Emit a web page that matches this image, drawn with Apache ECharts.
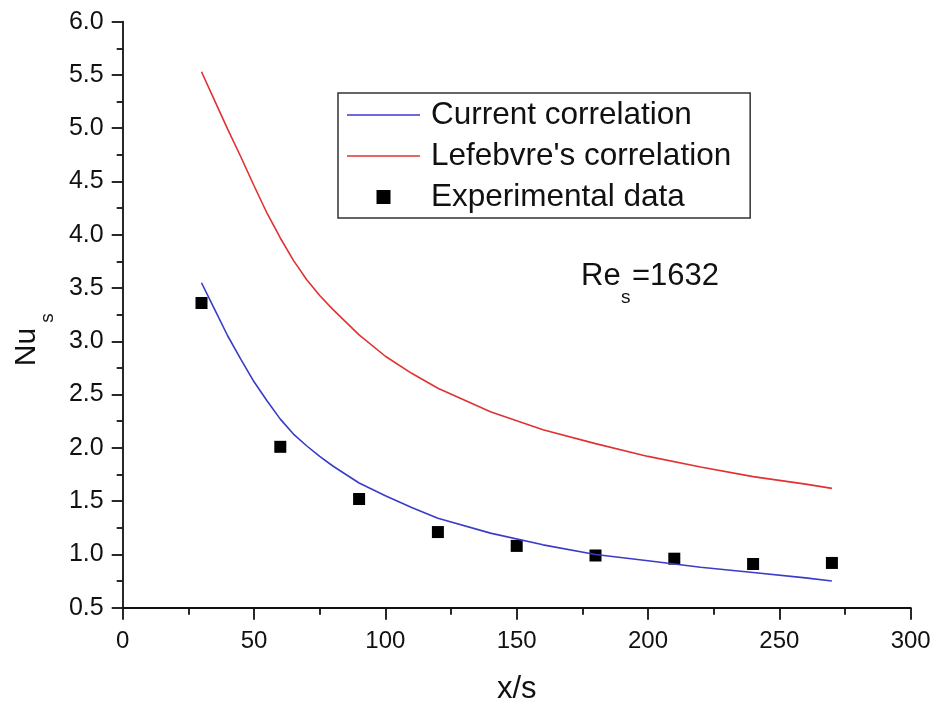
<!DOCTYPE html>
<html>
<head>
<meta charset="utf-8">
<script src="https://cdn.jsdelivr.net/npm/echarts@6/dist/echarts.min.js"></script>
<style>
html,body{margin:0;padding:0;background:#fff;}
#chart{width:938px;height:706px;}
</style>
</head>
<body>
<div id="chart"></div>
<script>
// x/s sample positions for the correlation curves
var curveX = [30, 35, 40, 45, 50, 55, 60, 65, 70, 75, 80, 90, 100, 110, 120, 140, 160, 180, 200, 220, 240, 260, 270];
// Current correlation (blue)
var currentNu = [3.55, 3.30, 3.05, 2.83, 2.62, 2.44, 2.27, 2.13, 2.02, 1.92, 1.83, 1.67, 1.55, 1.44, 1.34, 1.20, 1.09, 1.00, 0.94, 0.88, 0.83, 0.78, 0.75];
// Lefebvre's correlation (red)
var lefebvreNu = [5.53, 5.26, 4.99, 4.73, 4.46, 4.20, 3.97, 3.76, 3.58, 3.43, 3.30, 3.06, 2.86, 2.70, 2.56, 2.34, 2.17, 2.04, 1.92, 1.82, 1.73, 1.66, 1.62];
// Experimental data
var expX = [30, 60, 90, 120, 150, 180, 210, 240, 270];
var expNu = [3.36, 2.01, 1.52, 1.21, 1.08, 0.99, 0.96, 0.91, 0.92];

var names = ['Current correlation', "Lefebvre's correlation", 'Experimental data'];

function pairs(xs, ys) { return xs.map(function (x, i) { return [x, ys[i]]; }); }

var FONT = '"Liberation Sans", Arial, sans-serif';
var chart = echarts.init(document.getElementById('chart'), null, {renderer: 'canvas'});

chart.setOption({
  animation: false,
  backgroundColor: '#fff',
  grid: {left: 122.7, right: 27.3, top: 21.7, bottom: 98.3, containLabel: false, outerBoundsMode: 'none'},
  legend: {
    orient: 'vertical',
    left: 338, top: 93,
    padding: [6, 19, 5, 9],
    itemWidth: 73, itemHeight: 14, itemGap: 9, itemTextGap: 5,
    borderColor: '#333', borderWidth: 1.5, borderRadius: 0,
    textStyle: {fontFamily: FONT, fontSize: 31.5, lineHeight: 32, color: '#111', padding: [0, 0, 0, 6]},
    data: [
      {name: names[0], icon: 'path://M0,0H100V2H0Z'},
      {name: names[1], icon: 'path://M0,0H100V2H0Z'},
      {name: names[2], icon: 'path://M0,0H10V10H0Z'}
    ]
  },
  xAxis: {
    type: 'value', min: 0, max: 300, interval: 50,
    name: 'x/s', nameLocation: 'middle', nameGap: 66,
    nameTextStyle: {fontFamily: FONT, fontSize: 31, color: '#111'},
    axisLine: {onZero: false, lineStyle: {color: '#111', width: 1.8}},
    axisTick: {length: 12, lineStyle: {color: '#111', width: 1.8}},
    minorTick: {show: true, splitNumber: 2, length: 7, lineStyle: {color: '#111', width: 1.8}},
    splitLine: {show: false},
    axisLabel: {fontFamily: FONT, fontSize: 24, color: '#111', margin: 22}
  },
  yAxis: {
    type: 'value', min: 0.5, max: 6, interval: 0.5,
    axisLine: {show: true, onZero: false, lineStyle: {color: '#111', width: 1.8}},
    axisTick: {show: true, length: 11, lineStyle: {color: '#111', width: 1.8}},
    minorTick: {show: true, splitNumber: 2, length: 6, lineStyle: {color: '#111', width: 1.8}},
    splitLine: {show: false},
    axisLabel: {fontFamily: FONT, fontSize: 25, color: '#111', margin: 19,
      formatter: function (v) { return v.toFixed(1); }}
  },
  series: [
    {
      name: names[0], type: 'line', data: pairs(curveX, currentNu),
      symbol: 'none', smooth: false,
      lineStyle: {color: '#3b3bc9', width: 1.6}, itemStyle: {color: '#3b3bc9'}
    },
    {
      name: names[1], type: 'line', data: pairs(curveX, lefebvreNu),
      symbol: 'none', smooth: false,
      lineStyle: {color: '#e03232', width: 1.6}, itemStyle: {color: '#e03232'}
    },
    {
      name: names[2], type: 'scatter', data: pairs(expX, expNu),
      symbol: 'rect', symbolSize: 12, itemStyle: {color: '#000', opacity: 1}
    }
  ],
  graphic: [
    {type: 'text', x: 27, y: 347, rotation: Math.PI / 2,
      style: {text: 'Nu', font: '30px ' + FONT, fill: '#111', align: 'center', verticalAlign: 'middle'}},
    {type: 'text', x: 48, y: 318, rotation: Math.PI / 2,
      style: {text: 's', font: '19px ' + FONT, fill: '#111', align: 'center', verticalAlign: 'middle'}},
    {type: 'text', x: 581, y: 292,
      style: {text: 'Re', font: '31px ' + FONT, fill: '#111', align: 'left', verticalAlign: 'bottom'}},
    {type: 'text', x: 621, y: 307,
      style: {text: 's', font: '19px ' + FONT, fill: '#111', align: 'left', verticalAlign: 'bottom'}},
    {type: 'text', x: 632, y: 292,
      style: {text: '=1632', font: '31px ' + FONT, fill: '#111', align: 'left', verticalAlign: 'bottom'}}
  ]
});
</script>
</body>
</html>
